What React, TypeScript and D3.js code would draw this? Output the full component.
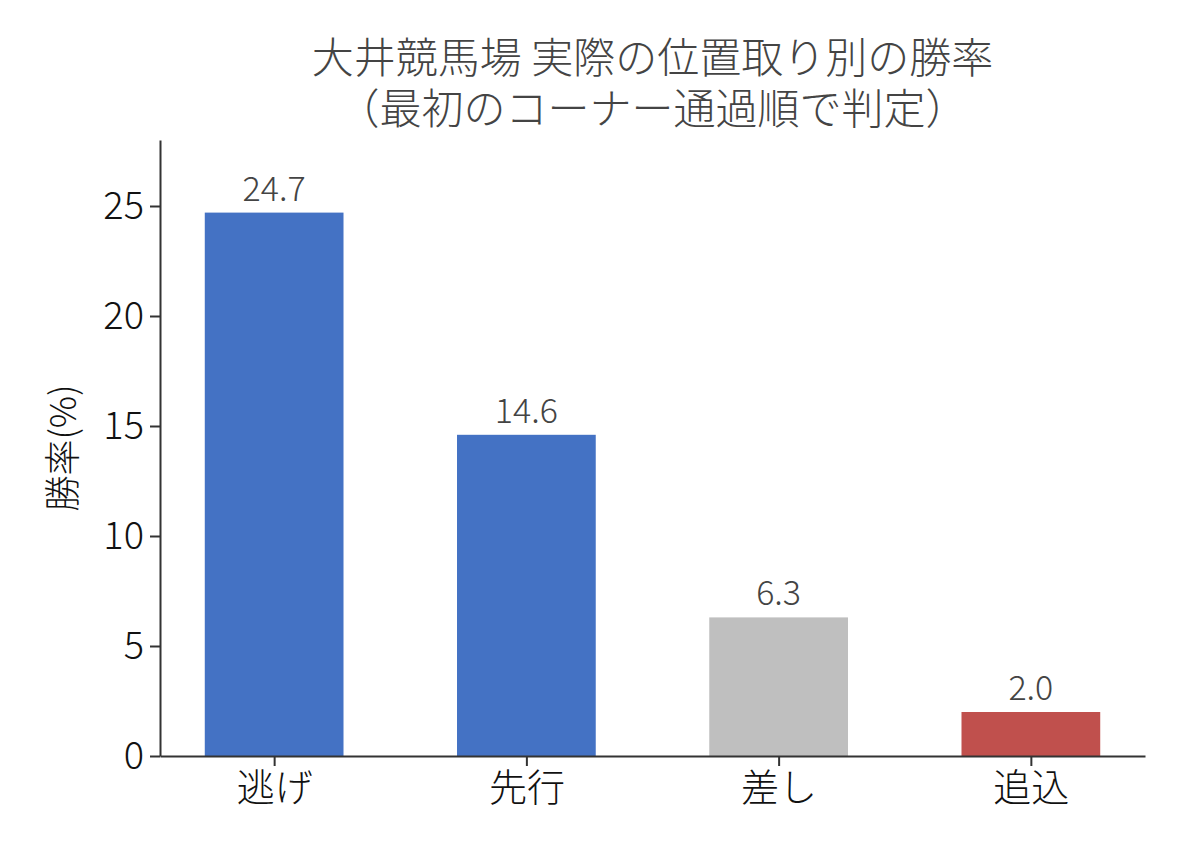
import React, { useEffect, useRef } from 'react';
import * as d3 from 'd3';

const categories = ['逃げ', '先行', '差し', '追込'];
const winRates = [24.7, 14.6, 6.3, 2.0];
const barColors = ['#4472C4', '#4472C4', '#BFBFBF', '#C0504D'];
const yTicks = [0, 5, 10, 15, 20, 25];
const titleLines = ['大井競馬場 実際の位置取り別の勝率', '（最初のコーナー通過順で判定）'];
const yLabel = '勝率(%)';

const WIDTH = 1188;
const HEIGHT = 858;
const FONT = '"Noto Sans CJK JP", "Noto Sans", sans-serif';

export default function App() {
  const svgRef = useRef<SVGSVGElement>(null);

  useEffect(() => {
    document.body.style.margin = '0';
    if (!svgRef.current) return;

    const margin = { top: 140, right: 43, bottom: 102, left: 160 };
    const svg = d3.select(svgRef.current);
    svg.selectAll('*').remove();

    svg.append('rect').attr('width', WIDTH).attr('height', HEIGHT).attr('fill', '#fff');

    // matplotlib-style x limits: bars of width 0.55 plus 5% margins
    const barWidth = 0.55;
    const lo = -barWidth / 2;
    const hi = categories.length - 1 + barWidth / 2;
    const pad = (hi - lo) * 0.05;

    const x = d3.scaleLinear()
      .domain([lo - pad, hi + pad])
      .range([margin.left, WIDTH - margin.right]);

    const y = d3.scaleLinear()
      .domain([0, 28])
      .range([HEIGHT - margin.bottom, margin.top]);

    const g = svg.append('g').style('font-family', FONT);

    // bars
    g.selectAll('.bar')
      .data(winRates)
      .enter()
      .append('rect')
      .attr('class', 'bar')
      .attr('x', (_, i) => x(i - barWidth / 2))
      .attr('width', (_, i) => x(i + barWidth / 2) - x(i - barWidth / 2))
      .attr('y', d => y(d))
      .attr('height', d => y(0) - y(d))
      .attr('fill', (_, i) => barColors[i]);

    // value labels
    g.selectAll('.val')
      .data(winRates)
      .enter()
      .append('text')
      .attr('x', (_, i) => x(i))
      .attr('y', d => y(d) - 12)
      .attr('text-anchor', 'middle')
      .attr('fill', '#444')
      .style('font-size', '34px')
      .style('font-weight', 300)
      .text(d => d.toFixed(1));

    // y axis
    const yAxis = g.append('g')
      .attr('transform', `translate(${margin.left},0)`)
      .call(d3.axisLeft(y).tickValues(yTicks).tickSize(10).tickPadding(6).tickSizeOuter(0));
    yAxis.select('.domain').attr('stroke', '#333').attr('stroke-width', 2);
    yAxis.selectAll('.tick line').attr('stroke', '#333').attr('stroke-width', 2);
    yAxis.selectAll('.tick text')
      .attr('fill', '#111')
      .style('font-family', FONT)
      .style('font-weight', 300)
      .style('font-size', '38px');

    // x axis
    const xAxis = g.append('g')
      .attr('transform', `translate(0,${y(0)})`)
      .call(d3.axisBottom(x)
        .tickValues(d3.range(categories.length))
        .tickFormat(i => categories[i as number])
        .tickSize(10)
        .tickPadding(8)
        .tickSizeOuter(0));
    xAxis.select('.domain').attr('stroke', '#333').attr('stroke-width', 2);
    xAxis.selectAll('.tick line').attr('stroke', '#333').attr('stroke-width', 2);
    xAxis.selectAll('.tick text')
      .attr('fill', '#111')
      .style('font-family', FONT)
      .style('font-weight', 300)
      .style('font-size', '38px');

    // y label
    g.append('text')
      .attr('transform', `translate(76,${(y(0) + y(28)) / 2}) rotate(-90)`)
      .attr('text-anchor', 'middle')
      .attr('fill', '#111')
      .style('font-size', '36px')
      .style('font-weight', 300)
      .text(yLabel);

    // title
    const cx = (x.range()[0] + x.range()[1]) / 2;
    g.selectAll('.title')
      .data(titleLines)
      .enter()
      .append('text')
      .attr('x', cx)
      .attr('y', (_, i) => 73 + i * 51)
      .attr('text-anchor', 'middle')
      .attr('fill', '#444')
      .style('font-size', '42px')
      .style('font-weight', 300)
      .text(d => d);
  }, []);

  return <svg ref={svgRef} width={WIDTH} height={HEIGHT} style={{ display: 'block' }} />;
}
